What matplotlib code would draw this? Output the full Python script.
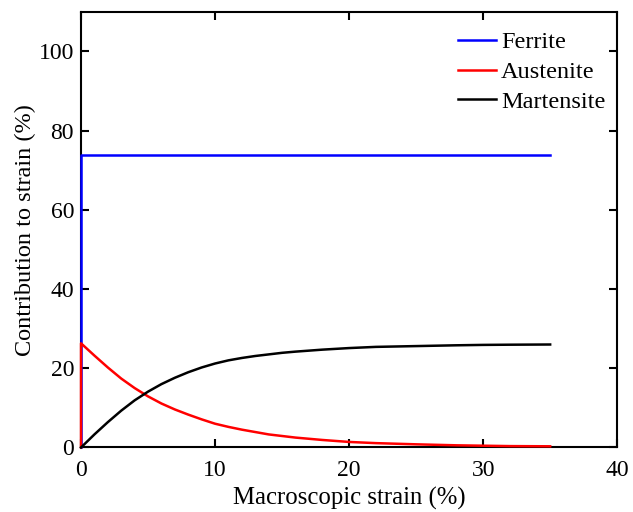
import numpy as np
import matplotlib
matplotlib.use('Agg')
from matplotlib import pyplot as plt

plt.rcParams['font.family'] = ['Liberation Serif', 'DejaVu Serif']

# datos
strain = [0, 1, 2, 3, 4, 5, 6, 7, 8, 9, 10, 11, 12, 13, 14, 15, 16, 18, 20, 22,
          25, 28, 30, 32, 35]
austenite = [26.3, 23.2, 20.2, 17.4, 15.0, 12.9, 11.1, 9.6, 8.3, 7.1, 6.0, 5.2, 4.5,
             3.9, 3.3, 2.9, 2.5, 1.9, 1.4, 1.1, 0.8, 0.55, 0.45, 0.35, 0.3]
martensite = [0, 3.3, 6.4, 9.3, 11.9, 14.1, 16.0, 17.6, 19.0, 20.2, 21.2, 22.0, 22.6,
              23.1, 23.5, 23.9, 24.2, 24.7, 25.1, 25.4, 25.6, 25.8, 25.9, 25.95, 26.0]
ferrite_x = [0, 0, 35]
ferrite = [0, 73.9, 73.9]

fig = plt.figure(figsize=(6.33, 5.12), dpi=100)
ax = fig.add_axes([0.128, 0.126, 0.847, 0.851])

ax.plot(ferrite_x, ferrite, color='#0000ff', lw=1.8, label='Ferrite',
        clip_on=False, zorder=3)
ax.plot([0] + strain, [0] + austenite, color='#ff0000', lw=1.8, label='Austenite',
        clip_on=False, zorder=4)
ax.plot(strain, martensite, color='black', lw=1.8, label='Martensite',
        clip_on=False, zorder=5)

ax.set_xlim(0, 40)
ax.set_ylim(0, 110)
ax.set_xticks([0, 10, 20, 30, 40])
ax.set_yticks([0, 20, 40, 60, 80, 100])
ax.tick_params(direction='in', length=6, width=1.5, top=True, right=True,
               labelsize=17, pad=5)
ax.tick_params(axis='x', pad=9)
for s in ax.spines.values():
    s.set_linewidth(1.5)

ax.set_xlabel('Macroscopic strain (%)', fontsize=17.8, labelpad=4)
ax.set_ylabel('Contribution to strain (%)', fontsize=17.5, labelpad=2)

leg = ax.legend(loc='upper right', frameon=False, fontsize=17.5, handlelength=1.55,
                handletextpad=0.2, labelspacing=0.32, borderaxespad=0.4,
                bbox_to_anchor=(1.014, 1.0))

fig.savefig('out.png', dpi=100)
